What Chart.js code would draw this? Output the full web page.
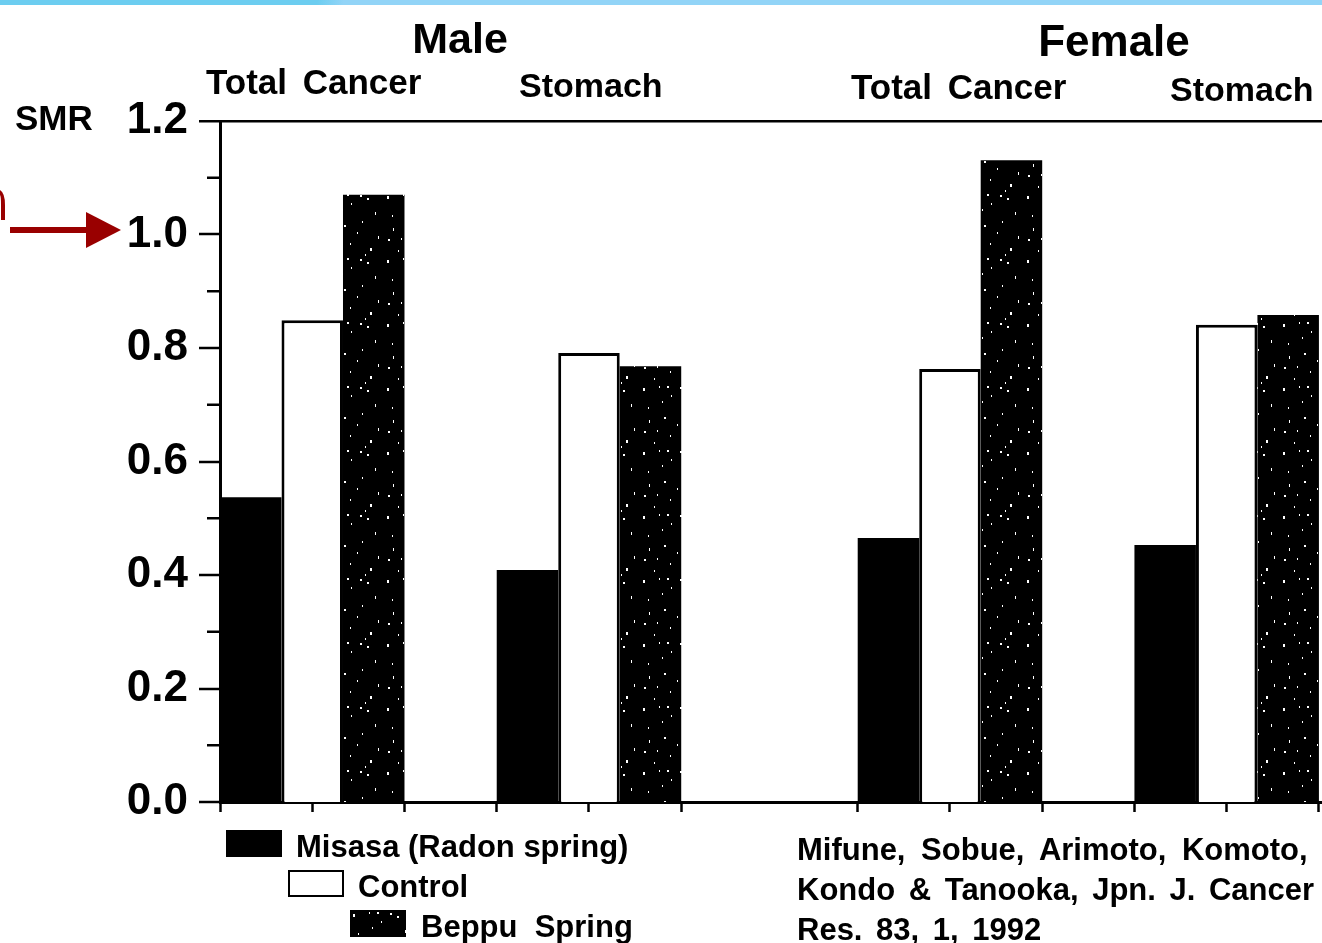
<!DOCTYPE html>
<html>
<head>
<meta charset="utf-8">
<title>SMR Misasa / Control / Beppu</title>
<script src="https://cdn.jsdelivr.net/npm/chart.js@4/dist/chart.umd.min.js"></script>
<style>
  html, body { margin: 0; padding: 0; background: #fff; overflow: hidden; }
  #wrap { position: relative; width: 1322px; height: 943px; font-family: "Liberation Sans", Arial, sans-serif; font-weight: bold; color: #000; }
  #topbar { position: absolute; left: 0; top: 0; width: 1322px; height: 5px;
    background: linear-gradient(100deg, #6ccdf0 0%, #6ccdf0 24%, #92d4f7 26%, #92d4f7 100%); }
  canvas { position: absolute; left: 0; top: 0; }
  .t { position: absolute; line-height: 1; white-space: pre; }
  .box { position: absolute; width: 56px; height: 27px; box-sizing: border-box; }
  #arrow { position: absolute; left: 0; top: 0; }
</style>
</head>
<body>
<div id="wrap">
  <canvas id="smrChart" width="1322" height="943"></canvas>
  <div id="topbar"></div>

  <div class="t" style="left:460px; top:17px; font-size:43px; transform:translateX(-50%);" id="sexMale"></div>
  <div class="t" style="left:1114px; top:19px; font-size:44px; transform:translateX(-50%);" id="sexFemale"></div>

  <div class="t g" style="left:206px; top:64px; font-size:35px; word-spacing:6px;"></div>
  <div class="t g" style="left:519px; top:68px; font-size:34px;"></div>
  <div class="t g" style="left:851px; top:69px; font-size:35px; word-spacing:6px;"></div>
  <div class="t g" style="left:1170px; top:72px; font-size:34px;"></div>

  <div class="t" style="left:15px; top:100px; font-size:35px;">SMR</div>

  <div class="box" id="boxMisasa" style="left:226px; top:830px; background:#000;"></div>
  <div class="box" id="boxControl" style="left:288px; top:870px; background:#fff; border:2.5px solid #000;"></div>
  <div class="box" id="boxBeppu" style="left:350px; top:910px; background:#000;"></div>
  <div class="t leg" style="left:296px; top:831px; font-size:31px;"></div>
  <div class="t leg" style="left:358px; top:871px; font-size:31px;"></div>
  <div class="t leg" style="left:421px; top:911px; font-size:31px;"></div>

  <div class="t" style="left:797px; top:834px; font-size:31px; word-spacing:7px;">Mifune, Sobue, Arimoto, Komoto,</div>
  <div class="t" style="left:797px; top:874px; font-size:31px; word-spacing:5px;">Kondo &amp; Tanooka, Jpn. J. Cancer</div>
  <div class="t" style="left:797px; top:914px; font-size:31px; word-spacing:5px;">Res. 83, 1, 1992</div>

  <svg id="arrow" width="130" height="260">
    <path d="M0 190 Q5 193 5 205 L5 220 L1 220 L1 205 Q1 196 0 195 Z" fill="#990000"/>
    <line x1="10" y1="230" x2="90" y2="230" stroke="#990000" stroke-width="6"/>
    <polygon points="86,212 121,230 86,248" fill="#990000"/>
  </svg>
</div>

<script>
(function () {
  "use strict";

  // --- data ---
  const sexes = ["Male", "Female"];
  const groups = ["Total Cancer", "Stomach", "Total Cancer", "Stomach"];
  const seriesNames = ["Misasa (Radon spring)", "Control", "Beppu  Spring"];
  const misasa = [0.537, 0.409, 0.465, 0.453];
  const control = [0.849, 0.791, 0.763, 0.841];
  const beppu = [1.070, 0.768, 1.131, 0.858];
  const yTicks = [0, 0.2, 0.4, 0.6, 0.8, 1.0, 1.2];
  const yMinorTicks = [0.1, 0.3, 0.5, 0.7, 0.9, 1.1];

  // --- layout (x in bar-width units from the y axis) ---
  const GROUP_CENTRES = [1.5, 6.0, 11.87, 16.37];
  const BARS_PER_GROUP = 3;
  const HALF_GROUP = BARS_PER_GROUP / 2;
  const X_MAX = 17.92;

  document.getElementById("sexMale").textContent = sexes[0];
  document.getElementById("sexFemale").textContent = sexes[1];
  document.querySelectorAll(".g").forEach((el, i) => { el.textContent = groups[i]; });
  document.querySelectorAll(".leg").forEach((el, i) => { el.textContent = seriesNames[i]; });

  // speckled dark fill for the Beppu bars (sparse white flecks on black)
  const SPECKS = [[3,4],[19,2],[31,11],[47,6],[55,20],[8,23],[24,33],[42,29],[58,44],[4,47],
                  [30,51],[14,58],[50,56],[37,40],[22,17],[40,3],[9,36],[45,62],[27,2],[17,46]];
  const pat = document.createElement("canvas");
  pat.width = 64; pat.height = 64;
  const pc = pat.getContext("2d");
  pc.fillStyle = "#000"; pc.fillRect(0, 0, 64, 64);
  pc.fillStyle = "#fff";
  SPECKS.forEach(([x, y], i) => pc.fillRect(x, y, i % 3 === 0 ? 2 : 1, i % 4 === 0 ? 3 : 2));
  const beppuFill = document.getElementById("smrChart").getContext("2d").createPattern(pat, "repeat");
  document.getElementById("boxBeppu").style.background = "url(" + pat.toDataURL() + ")";

  const toPoints = (vals) => vals.map((v, i) => ({ x: GROUP_CENTRES[i], y: v }));

  // x ticks sit at each group's edges and centre
  const xTicks = [];
  GROUP_CENTRES.forEach((c) => { xTicks.push(c - HALF_GROUP, c, c + HALF_GROUP); });

  // Chart.js sizes bars from the smallest gap among data points and ticks
  const sorted = xTicks.concat(GROUP_CENTRES).sort((a, b) => a - b);
  let minGap = Infinity;
  for (let i = 1; i < sorted.length; i++) {
    const d = sorted[i] - sorted[i - 1];
    if (d > 1e-9) minGap = Math.min(minGap, d);
  }
  const catPct = BARS_PER_GROUP / minGap;

  const isTop = (v) => Math.abs(v - 1.2) < 1e-6;

  const minorTicks = {
    id: "minorTicks",
    afterDraw(chart) {
      const y = chart.scales.y;
      const c = chart.ctx;
      c.save();
      c.strokeStyle = "#000";
      c.lineWidth = 2.5;
      yMinorTicks.forEach((v) => {
        const py = y.getPixelForValue(v);
        c.beginPath();
        c.moveTo(chart.chartArea.left - 13, py);
        c.lineTo(chart.chartArea.left, py);
        c.stroke();
      });
      c.restore();
    }
  };

  new Chart(document.getElementById("smrChart"), {
    type: "bar",
    data: {
      datasets: [
        { label: seriesNames[0], data: toPoints(misasa), backgroundColor: "#000", borderWidth: 0 },
        { label: seriesNames[1], data: toPoints(control), backgroundColor: "#fff", borderColor: "#000", borderWidth: 3 },
        { label: seriesNames[2], data: toPoints(beppu), backgroundColor: beppuFill, borderWidth: 0 }
      ]
    },
    options: {
      responsive: false,
      animation: false,
      datasets: { bar: { categoryPercentage: catPct, barPercentage: 1 } },
      layout: { padding: { top: 121, left: 0, right: 0, bottom: 0 } },
      plugins: { legend: { display: false }, tooltip: { enabled: false } },
      scales: {
        x: {
          type: "linear",
          min: 0,
          max: X_MAX,
          offset: false,
          grid: { offset: false, drawOnChartArea: false, tickLength: 10, tickWidth: 2.5, tickColor: "#000" },
          border: { color: "#000", width: 3 },
          ticks: { display: false },
          afterBuildTicks: (s) => { s.ticks = xTicks.map((v) => ({ value: v })); },
          afterFit: (s) => { s.height = 141; }
        },
        y: {
          min: 0,
          max: 1.2,
          grid: {
            drawOnChartArea: true,
            color: (c) => (c.tick && isTop(c.tick.value) ? "#000" : "rgba(0,0,0,0)"),
            lineWidth: (c) => (c.tick && isTop(c.tick.value) ? 2.5 : 0),
            tickLength: 21,
            tickWidth: 2.5,
            tickColor: "#000"
          },
          border: { color: "#000", width: 3 },
          ticks: {
            color: "#000",
            padding: 11,
            font: { family: "'Liberation Sans', Arial, sans-serif", size: 44, weight: "bold" },
            callback: (v) => Number(v).toFixed(1)
          },
          afterBuildTicks: (s) => { s.ticks = yTicks.map((v) => ({ value: v })); },
          afterFit: (s) => { s.width = 220; }
        }
      }
    },
    plugins: [minorTicks]
  });
})();
</script>
</body>
</html>
